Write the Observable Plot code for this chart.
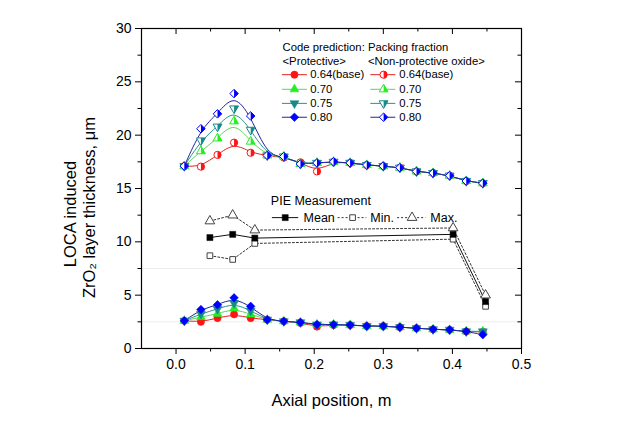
<!DOCTYPE html>
<html>
<head>
<meta charset="utf-8">
<script src="https://cdn.jsdelivr.net/npm/d3@7"></script>
<script src="https://cdn.jsdelivr.net/npm/@observablehq/plot@0.6"></script>
<style>
  html, body { margin: 0; padding: 0; background: #fff; }
  #chart svg { display: block; }
</style>
</head>
<body>
<div id="chart"></div>
<script>
// ---------------- DATA ----------------
const axialPosition = [0.012, 0.036, 0.060, 0.084, 0.108, 0.132, 0.156, 0.180, 0.204, 0.228,
                       0.252, 0.276, 0.300, 0.324, 0.348, 0.372, 0.396, 0.420, 0.444];

// Code prediction, <Protective>
const prot064 = [2.6, 2.5, 2.85, 3.2, 2.85, 2.7, 2.55, 2.4, 2.05, 2.2, 2.2, 2.1, 2.1, 2.0, 1.9, 1.8, 1.75, 1.6, 1.55];
const prot070 = [2.6, 2.95, 3.25, 3.75, 3.2, 2.7, 2.55, 2.45, 2.25, 2.25, 2.2, 2.1, 2.1, 2.0, 1.9, 1.8, 1.75, 1.6, 1.6];
const prot075 = [2.6, 3.25, 3.7, 4.25, 3.55, 2.7, 2.55, 2.45, 2.25, 2.25, 2.2, 2.1, 2.1, 2.0, 1.9, 1.8, 1.75, 1.6, 1.6];
const prot080 = [2.6, 3.65, 4.1, 4.75, 3.95, 2.7, 2.55, 2.45, 2.25, 2.25, 2.2, 2.1, 2.1, 2.0, 1.9, 1.8, 1.75, 1.6, 1.3];

// Code prediction, <Non-protective oxide>
const nonp064 = [17.1, 17.05, 18.15, 19.3, 18.35, 18.1, 17.9, 17.45, 16.6, 17.5, 17.4, 17.2, 17.1, 16.95, 16.6, 16.45, 16.2, 15.7, 15.5];
const nonp070 = [17.1, 18.5, 19.7, 21.3, 19.4, 18.1, 18.0, 17.3, 17.4, 17.5, 17.4, 17.2, 17.1, 16.95, 16.6, 16.45, 16.2, 15.7, 15.5];
const nonp075 = [17.1, 19.5, 20.8, 22.5, 20.5, 18.1, 18.0, 17.3, 17.4, 17.5, 17.4, 17.2, 17.1, 16.95, 16.6, 16.45, 16.2, 15.7, 15.5];
const nonp080 = [17.1, 20.6, 22.0, 23.9, 21.8, 18.1, 18.0, 17.3, 17.4, 17.5, 17.4, 17.2, 17.1, 16.95, 16.6, 16.45, 16.2, 15.7, 15.5];

const packingLabels = ["0.64(base)", "0.70", "0.75", "0.80"];

// PIE measurement
const pieX    = [0.049, 0.082, 0.114, 0.401, 0.448];
const pieMean = [10.4, 10.7, 10.35, 10.7, 4.4];
const pieMin  = [8.7, 8.35, 9.85, 10.25, 3.95];
const pieMax  = [11.95, 12.5, 11.1, 11.3, 5.0];
const pieLabels = ["Mean", "Min.", "Max."];

// Tick values
const xMajorTicks = [0.0, 0.1, 0.2, 0.3, 0.4, 0.5];
const xMinorTicks = [0.05, 0.15, 0.25, 0.35, 0.45];
const yMajorTicks = [0, 5, 10, 15, 20, 25, 30];
const yMinorTicks = [2.5, 7.5, 12.5, 17.5, 22.5, 27.5];
const faintGrid   = [2.5, 7.5];

// ---------------- STYLES ----------------
const lineColors   = ["#e02424", "#5ad85a", "#2a9292", "#23239e"];
const markerColors = ["#ff1414", "#22ee22", "#168a8a", "#0000ff"];
const FONT = "'Liberation Sans', Arial, Helvetica, sans-serif";

// frame size in px (for inward tick insets)
const W = 620, H = 421, ML = 141, MR = 99, MT = 28, MB = 73;
const frameW = W - ML - MR, frameH = H - MT - MB;

// ---------------- SYMBOLS ----------------
const S3 = Math.sqrt(3);
const symCircle = {draw(c, s) { const r = Math.sqrt(s / Math.PI); c.moveTo(r, 0); c.arc(0, 0, r, 0, 2 * Math.PI); }};
const symCircleR = {draw(c, s) { const r = Math.sqrt(s / Math.PI); c.moveTo(0, -r); c.arc(0, 0, r, -Math.PI / 2, Math.PI / 2, false); c.closePath(); }};
const symTriUp = {draw(c, s) { const y = -Math.sqrt(s / (S3 * 3)); c.moveTo(0, 2 * y); c.lineTo(-S3 * y, -y); c.lineTo(S3 * y, -y); c.closePath(); }};
const symTriUpR = {draw(c, s) { const y = -Math.sqrt(s / (S3 * 3)); c.moveTo(0, 2 * y); c.lineTo(-S3 * y, -y); c.lineTo(0, -y); c.closePath(); }};
const symTriDown = {draw(c, s) { const y = -Math.sqrt(s / (S3 * 3)); c.moveTo(0, -2 * y); c.lineTo(-S3 * y, y); c.lineTo(S3 * y, y); c.closePath(); }};
const symTriDownR = {draw(c, s) { const y = -Math.sqrt(s / (S3 * 3)); c.moveTo(0, -2 * y); c.lineTo(-S3 * y, y); c.lineTo(0, y); c.closePath(); }};
const symDiamond = {draw(c, s) { const h = Math.sqrt(s / 2); c.moveTo(0, -h); c.lineTo(h, 0); c.lineTo(0, h); c.lineTo(-h, 0); c.closePath(); }};
const symDiamondR = {draw(c, s) { const h = Math.sqrt(s / 2); c.moveTo(0, -h); c.lineTo(h, 0); c.lineTo(0, h); c.closePath(); }};
const symSquare = {draw(c, s) { const w = Math.sqrt(s) / 2; c.rect(-w, -w, 2 * w, 2 * w); }};

const fullSymbols = [symCircle, symTriUp, symTriDown, symDiamond];
const halfSymbols = [symCircleR, symTriUpR, symTriDownR, symDiamondR];
const symbolR = [3.6, 3.3, 3.3, 3.4];

// ---------------- BUILD TABLES ----------------
const protSeries = [prot064, prot070, prot075, prot080];
const nonpSeries = [nonp064, nonp070, nonp075, nonp080];
const toRows = (vals) => axialPosition.map((x, i) => ({x, y: vals[i]}));
const pieRows = (vals) => pieX.map((x, i) => ({x, y: vals[i]}));

// legend layout (in data units)
const legRowY = [25.67, 24.30, 22.98, 21.68];
const legendRows = packingLabels.map((label, i) => ({label, i, y: legRowY[i]}));

const marks = [];

// faint grid
marks.push(Plot.ruleY(faintGrid, {stroke: "#e8e8e8", strokeWidth: 0.8}));

// model lines
protSeries.forEach((v, i) => marks.push(Plot.line(toRows(v), {x: "x", y: "y", curve: "basis", stroke: lineColors[i], strokeWidth: 1})));
nonpSeries.forEach((v, i) => marks.push(Plot.line(toRows(v), {x: "x", y: "y", curve: "basis", stroke: lineColors[i], strokeWidth: 1})));

// protective markers (filled)
protSeries.forEach((v, i) => marks.push(Plot.dot(toRows(v), {x: "x", y: "y", symbol: fullSymbols[i], r: symbolR[i], fill: markerColors[i], stroke: markerColors[i], strokeWidth: 0.6})));
// non-protective markers (half filled)
nonpSeries.forEach((v, i) => {
  marks.push(Plot.dot(toRows(v), {x: "x", y: "y", symbol: fullSymbols[i], r: symbolR[i], fill: "#fff", stroke: markerColors[i], strokeWidth: 1}));
  marks.push(Plot.dot(toRows(v), {x: "x", y: "y", symbol: halfSymbols[i], r: symbolR[i], fill: markerColors[i], stroke: "none"}));
});

// PIE measurement
marks.push(Plot.line(pieRows(pieMin), {x: "x", y: "y", stroke: "#333", strokeWidth: 1, strokeDasharray: "2,2"}));
marks.push(Plot.line(pieRows(pieMax), {x: "x", y: "y", stroke: "#333", strokeWidth: 1, strokeDasharray: "2,2"}));
marks.push(Plot.line(pieRows(pieMean), {x: "x", y: "y", stroke: "#111", strokeWidth: 1}));
marks.push(Plot.dot(pieRows(pieMin), {x: "x", y: "y", symbol: symSquare, r: 3.2, fill: "#fff", stroke: "#444", strokeWidth: 1}));
marks.push(Plot.dot(pieRows(pieMax), {x: "x", y: "y", symbol: symTriUp, r: 3.6, fill: "#fff", stroke: "#444", strokeWidth: 1}));
marks.push(Plot.dot(pieRows(pieMean), {x: "x", y: "y", symbol: symSquare, r: 3.4, fill: "#000", stroke: "#000", strokeWidth: 0.5}));

// ---- Code prediction legend ----
marks.push(Plot.text(["Code prediction: Packing fraction"], {x: 0.1541, y: 28.27, text: d => d, textAnchor: "start", lineAnchor: "middle", fontSize: 11.3, fill: "#000"}));
marks.push(Plot.text(["<Protective>"], {x: 0.1541, y: 26.89, text: d => d, textAnchor: "start", lineAnchor: "middle", fontSize: 11.3, fill: "#000"}));
marks.push(Plot.text(["<Non-protective oxide>"], {x: 0.2778, y: 26.89, text: d => d, textAnchor: "start", lineAnchor: "middle", fontSize: 11.3, fill: "#000"}));
legendRows.forEach(({label, i, y}) => {
  const row = [{y}];
  // column 1 (protective)
  marks.push(Plot.link(row, {x1: 0.1532, x2: 0.1894, y1: "y", y2: "y", stroke: lineColors[i], strokeWidth: 1}));
  marks.push(Plot.dot(row, {x: 0.1714, y: "y", symbol: fullSymbols[i], r: symbolR[i], fill: markerColors[i], stroke: markerColors[i], strokeWidth: 0.6}));
  marks.push(Plot.text([label], {x: 0.1942, y, text: d => d, textAnchor: "start", lineAnchor: "middle", fontSize: 11.3, fill: "#000"}));
  // column 2 (non-protective)
  marks.push(Plot.link(row, {x1: 0.2812, x2: 0.3174, y1: "y", y2: "y", stroke: lineColors[i], strokeWidth: 1}));
  marks.push(Plot.dot(row, {x: 0.3004, y: "y", symbol: fullSymbols[i], r: symbolR[i], fill: "#fff", stroke: markerColors[i], strokeWidth: 1}));
  marks.push(Plot.dot(row, {x: 0.3004, y: "y", symbol: halfSymbols[i], r: symbolR[i], fill: markerColors[i], stroke: "none"}));
  marks.push(Plot.text([label], {x: 0.3232, y, text: d => d, textAnchor: "start", lineAnchor: "middle", fontSize: 11.3, fill: "#000"}));
});

// ---- PIE legend ----
const pieRowY = 12.27;
marks.push(Plot.text(["PIE Measurement"], {x: 0.1372, y: 13.84, text: d => d, textAnchor: "start", lineAnchor: "middle", fontSize: 12.5, fill: "#000"}));
marks.push(Plot.link([{y: pieRowY}], {x1: 0.1387, x2: 0.1768, y1: "y", y2: "y", stroke: "#111", strokeWidth: 1}));
marks.push(Plot.dot([{y: pieRowY}], {x: 0.158, y: "y", symbol: symSquare, r: 3.4, fill: "#000", stroke: "#000", strokeWidth: 0.5}));
marks.push(Plot.text([pieLabels[0]], {x: 0.1845, y: pieRowY, text: d => d, textAnchor: "start", lineAnchor: "middle", fontSize: 12.5, fill: "#000"}));
marks.push(Plot.link([{y: pieRowY}], {x1: 0.2338, x2: 0.2754, y1: "y", y2: "y", stroke: "#333", strokeWidth: 1, strokeDasharray: "2,2"}));
marks.push(Plot.dot([{y: pieRowY}], {x: 0.2555, y: "y", symbol: symSquare, r: 3.2, fill: "#fff", stroke: "#444", strokeWidth: 1}));
marks.push(Plot.text([pieLabels[1]], {x: 0.2812, y: pieRowY, text: d => d, textAnchor: "start", lineAnchor: "middle", fontSize: 12.5, fill: "#000"}));
marks.push(Plot.link([{y: pieRowY}], {x1: 0.3199, x2: 0.3609, y1: "y", y2: "y", stroke: "#333", strokeWidth: 1, strokeDasharray: "2,2"}));
marks.push(Plot.dot([{y: pieRowY}], {x: 0.3416, y: "y", symbol: symTriUp, r: 3.6, fill: "#fff", stroke: "#444", strokeWidth: 1}));
marks.push(Plot.text([pieLabels[2]], {x: 0.3681, y: pieRowY, text: d => d, textAnchor: "start", lineAnchor: "middle", fontSize: 12.5, fill: "#000"}));

// ---- Axes ----
const noText = () => "";
marks.push(Plot.axisX({ticks: xMajorTicks, tickSize: 6, tickPadding: 5, tickFormat: d3.format(".1f"), fontSize: 14, label: null}));
marks.push(Plot.axisX({ticks: xMinorTicks, tickSize: 3.5, tickFormat: noText, label: null}));
marks.push(Plot.axisY({ticks: yMajorTicks, tickSize: 6, tickPadding: 4, tickFormat: d3.format("d"), fontSize: 14, label: null}));
marks.push(Plot.axisY({ticks: yMinorTicks, tickSize: 3.5, tickFormat: noText, label: null}));
// inward mirrored ticks on top and right edges
marks.push(Plot.tickX(xMajorTicks, {x: d => d, insetBottom: frameH - 6, stroke: "#000", strokeWidth: 1}));
marks.push(Plot.tickX(xMinorTicks, {x: d => d, insetBottom: frameH - 3.5, stroke: "#000", strokeWidth: 1}));
marks.push(Plot.tickY(yMajorTicks, {y: d => d, insetLeft: frameW - 6, stroke: "#000", strokeWidth: 1}));
marks.push(Plot.tickY(yMinorTicks, {y: d => d, insetLeft: frameW - 3.5, stroke: "#000", strokeWidth: 1}));
marks.push(Plot.frame({stroke: "#000", strokeWidth: 1.2}));

// ---- Axis titles ----
marks.push(Plot.text(["Axial position, m"], {frameAnchor: "bottom", text: d => d, dy: 52, lineAnchor: "middle", fontSize: 16.5, fill: "#000"}));
marks.push(Plot.text(["LOCA induced"], {frameAnchor: "left", text: d => d, rotate: -90, dx: -71, dy: 25.5, lineAnchor: "middle", textAnchor: "middle", fontSize: 16.5, fill: "#000"}));
marks.push(Plot.text(["ZrO\u2082 layer thickness, \u03bcm"], {frameAnchor: "left", text: d => d, rotate: -90, dx: -51.5, dy: 19, lineAnchor: "middle", textAnchor: "middle", fontSize: 16.5, fill: "#000"}));

const chart = Plot.plot({
  width: W,
  height: H,
  marginLeft: ML,
  marginRight: MR,
  marginTop: MT,
  marginBottom: MB,
  style: {fontFamily: FONT, color: "#000", background: "#fff", overflow: "visible"},
  x: {domain: [-0.05, 0.5]},
  y: {domain: [0, 30]},
  marks
});
document.getElementById("chart").appendChild(chart);
</script>
</body>
</html>
